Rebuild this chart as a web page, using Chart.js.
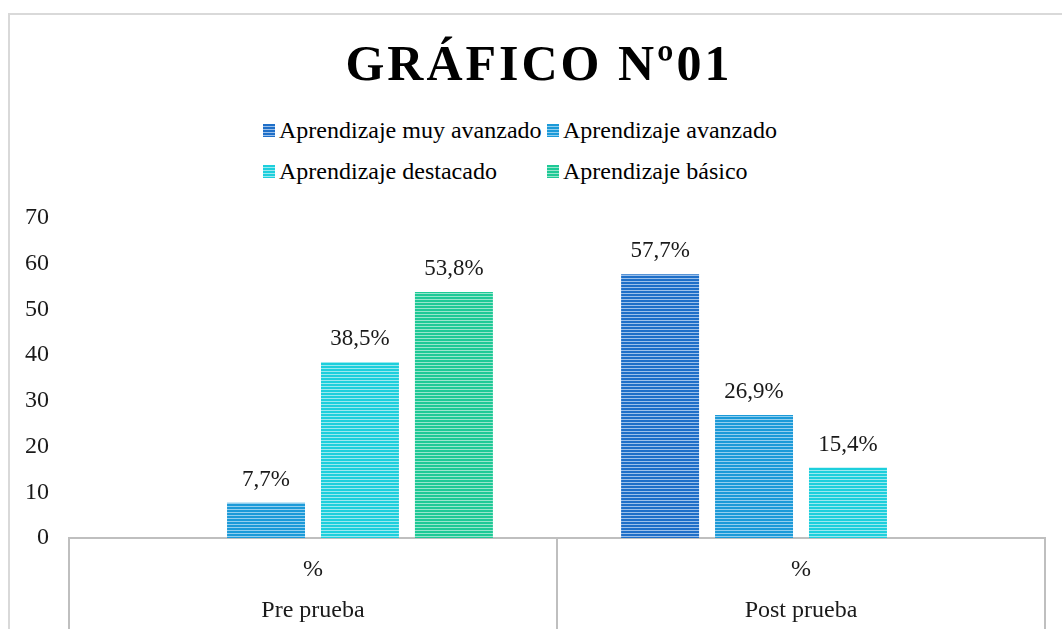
<!DOCTYPE html>
<html>
<head>
<meta charset="utf-8">
<script src="https://cdn.jsdelivr.net/npm/chart.js@4/dist/chart.umd.min.js"></script>
<style>
  html, body { margin: 0; padding: 0; background: #fff; overflow: hidden; }
  body { width: 1062px; height: 629px; position: relative; font-family: 'Liberation Serif', 'Times New Roman', serif; }
  .frame { position: absolute; left: 8px; top: 13px; width: 1100px; height: 700px; border: 2px solid #d9d9d9; box-sizing: border-box; }
  .title { position: absolute; left: 8px; width: 1062px; top: 33px; margin: 0; text-align: center;
           font-size: 50px; font-weight: bold; letter-spacing: 3px; color: #000; line-height: 60px; }
  .legend { position: absolute; left: 263px; top: 118px; display: grid; grid-template-columns: 284px 260px; row-gap: 17px; }
  .legend-item { display: flex; align-items: center; font-size: 24px; line-height: 24px; color: #000; white-space: nowrap; }
  .legend-box { width: 12px; height: 13px; margin-right: 4px; }
  #chartWrap { position: absolute; left: 0; top: 0; width: 1062px; height: 629px; }
</style>
</head>
<body>
<div class="frame"></div>
<h1 class="title">GRÁFICO Nº01</h1>
<div class="legend" id="chartLegend"></div>
<div id="chartWrap"><canvas id="resultChart" width="1062" height="629"></canvas></div>

<script>
// ── 데이터 ──
var categories = [['%', 'Pre prueba'], ['%', 'Post prueba']];
var seriesNames = ['Aprendizaje muy avanzado', 'Aprendizaje avanzado', 'Aprendizaje destacado', 'Aprendizaje básico'];
var muyAvanzado = [null, 57.7];
var avanzado = [7.7, 26.9];
var destacado = [38.5, 15.4];
var basico = [53.8, null];
var yTicks = [0, 10, 20, 30, 40, 50, 60, 70];

// ── 색상 (진한 줄 / 밝은 줄) ──
var baseColors = ['#1f6fc8', '#1c9ad8', '#1dcfdc', '#1ec996'];
var lightColors = ['#9cc0ea', '#93cfef', '#9be9ef', '#97e6cc'];

// ── 가로 줄무늬 패턴 ──
function stripePattern(ctx, base, light) {
  var c = document.createElement('canvas');
  c.width = 4; c.height = 3;
  var p = c.getContext('2d');
  p.fillStyle = base;
  p.fillRect(0, 0, 4, 2);
  p.fillStyle = light;
  p.fillRect(0, 2, 4, 1);
  return ctx.createPattern(c, 'repeat');
}

function formatPct(v) {
  return v.toFixed(1).replace('.', ',') + '%';
}

// ── 범례 (HTML) ──
function renderLegend() {
  var html = '';
  seriesNames.forEach(function(name, i) {
    html += '<div class="legend-item">' +
      '<span class="legend-box" style="background:repeating-linear-gradient(to bottom,' +
      baseColors[i] + ' 0 2px,' + lightColors[i] + ' 2px 3px);"></span>' + name + '</div>';
  });
  document.getElementById('chartLegend').innerHTML = html;
}

// ── 차트 ──
function renderChart() {
  var canvas = document.getElementById('resultChart');
  var ctx = canvas.getContext('2d');
  var seriesValues = [muyAvanzado, avanzado, destacado, basico];

  var datasets = seriesValues.map(function(values, i) {
    return {
      label: seriesNames[i],
      data: values,
      backgroundColor: stripePattern(ctx, baseColors[i], lightColors[i]),
      borderWidth: 0,
      categoryPercentage: 0.77,
      barPercentage: 0.83
    };
  });

  new Chart(ctx, {
    type: 'bar',
    data: { labels: categories, datasets: datasets },
    options: {
      responsive: false,
      animation: false,
      layout: { padding: { top: 218, right: 17, left: 0, bottom: 0 } },
      plugins: {
        legend: { display: false },
        tooltip: { enabled: false }
      },
      scales: {
        x: {
          afterFit: function(scale) { scale.height = 91; },
          border: { display: true, color: '#bfbfbf', width: 2 },
          grid: {
            display: true,
            offset: true,
            drawOnChartArea: false,
            drawTicks: true,
            tickLength: 100,
            color: '#bfbfbf',
            lineWidth: 2
          },
          ticks: {
            font: { family: 'Liberation Serif', size: 24, lineHeight: 1.71 },
            color: '#1a1a1a',
            padding: -88.5,
            maxRotation: 0,
            autoSkip: false
          }
        },
        y: {
          min: 0,
          max: 70,
          afterFit: function(scale) { scale.width = 69; },
          afterBuildTicks: function(scale) {
            scale.ticks = yTicks.map(function(v) { return { value: v }; });
          },
          border: { display: false },
          grid: { display: false, drawTicks: false },
          ticks: {
            font: { family: 'Liberation Serif', size: 24 },
            color: '#1a1a1a',
            padding: 20
          }
        }
      }
    },
    plugins: [{
      id: 'barTopLabels',
      afterDatasetsDraw: function(chart) {
        var c = chart.ctx;
        chart.data.datasets.forEach(function(dataset, i) {
          var meta = chart.getDatasetMeta(i);
          meta.data.forEach(function(bar, index) {
            var value = dataset.data[index];
            if (value === null || value === undefined) return;
            c.save();
            c.fillStyle = '#1a1a1a';
            c.font = '23px "Liberation Serif"';
            c.textAlign = 'center';
            c.textBaseline = 'middle';
            c.fillText(formatPct(value), bar.x, bar.y - 23);
            c.restore();
          });
        });
      }
    }]
  });
}

document.addEventListener('DOMContentLoaded', function() {
  renderLegend();
  renderChart();
});
</script>
</body>
</html>
